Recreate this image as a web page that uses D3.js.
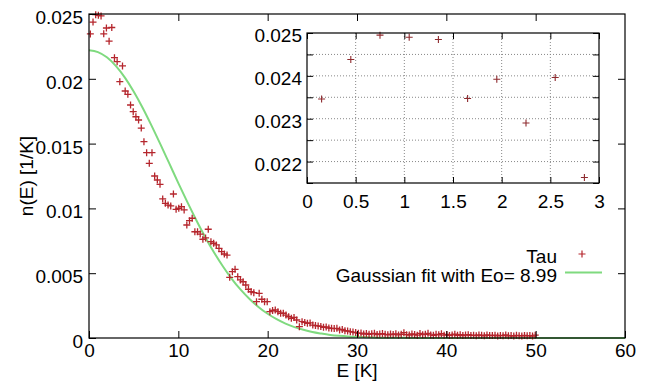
<!DOCTYPE html>
<html>
<head>
<meta charset="utf-8">
<script src="https://cdn.jsdelivr.net/npm/d3@7"></script>
<style>
  body { margin: 0; background: #fff; overflow: hidden; }
  svg { display: block; }
  svg text { font-family: "Liberation Sans", Arial, sans-serif; font-size: 19px; fill: #000; }
</style>
</head>
<body>
<svg id="chart" width="654" height="381"></svg>
<script>
// energy bins [K]
const energies = [
  0.15, 0.45, 0.75, 1.05, 1.35, 1.65, 1.95, 2.25, 2.55, 2.85,
  3.15, 3.45, 3.75, 4.05, 4.35, 4.65, 4.95, 5.25, 5.55, 5.85,
  6.15, 6.45, 6.75, 7.05, 7.35, 7.65, 7.95, 8.25, 8.55, 8.85,
  9.15, 9.45, 9.75, 10.05, 10.35, 10.65, 10.95, 11.25, 11.55, 11.85,
  12.15, 12.45, 12.75, 13.05, 13.35, 13.65, 13.95, 14.25, 14.55, 14.85,
  15.15, 15.45, 15.75, 16.05, 16.35, 16.65, 16.95, 17.25, 17.55, 17.85,
  18.15, 18.45, 18.75, 19.05, 19.35, 19.65, 19.95, 20.25, 20.55, 20.85,
  21.15, 21.45, 21.75, 22.05, 22.35, 22.65, 22.95, 23.25, 23.55, 23.85,
  24.15, 24.45, 24.75, 25.05, 25.35, 25.65, 25.95, 26.25, 26.55, 26.85,
  27.15, 27.45, 27.75, 28.05, 28.35, 28.65, 28.95, 29.25, 29.55, 29.85,
  30.15, 30.45, 30.75, 31.05, 31.35, 31.65, 31.95, 32.25, 32.55, 32.85,
  33.15, 33.45, 33.75, 34.05, 34.35, 34.65, 34.95, 35.25, 35.55, 35.85,
  36.15, 36.45, 36.75, 37.05, 37.35, 37.65, 37.95, 38.25, 38.55, 38.85,
  39.15, 39.45, 39.75, 40.05, 40.35, 40.65, 40.95, 41.25, 41.55, 41.85,
  42.15, 42.45, 42.75, 43.05, 43.35, 43.65, 43.95, 44.25, 44.55, 44.85,
  45.15, 45.45, 45.75, 46.05, 46.35, 46.65, 46.95, 47.25, 47.55, 47.85,
  48.15, 48.45, 48.75, 49.05, 49.35, 49.65, 49.95
];

// n(E) for Tau [1/K]
const tau = [
  0.02346, 0.02438, 0.02495, 0.02490, 0.02485, 0.02347, 0.02392, 0.02290, 0.02396, 0.02163,
  0.02132, 0.01978, 0.02099, 0.01906, 0.01880, 0.01798, 0.01746, 0.01707, 0.01682, 0.01620,
  0.01515, 0.01430, 0.01348, 0.01430, 0.01250, 0.01219, 0.01186, 0.01073, 0.01039, 0.01026,
  0.01019, 0.01111, 0.00993, 0.01001, 0.01013, 0.00988, 0.00872, 0.00905, 0.00924, 0.00820,
  0.00820, 0.00802, 0.00762, 0.00772, 0.00839, 0.00743, 0.00731, 0.00718, 0.00692, 0.00666,
  0.00648, 0.00640, 0.00468, 0.00512, 0.00530, 0.00473, 0.00448, 0.00434, 0.00409, 0.00376,
  0.00357, 0.00350, 0.00280, 0.00345, 0.00299, 0.00280, 0.00280, 0.00203, 0.00212, 0.00216,
  0.00203, 0.00191, 0.00191, 0.00177, 0.00164, 0.00152, 0.00158, 0.00139, 0.00087, 0.00126,
  0.00120, 0.00113, 0.00116, 0.00100, 0.00096, 0.00093, 0.00089, 0.00083, 0.00085, 0.00077,
  0.00075, 0.00073, 0.00075, 0.00062, 0.00066, 0.00056, 0.00054, 0.00049, 0.00046, 0.00042,
  0.00036, 0.00038, 0.00031, 0.00035, 0.00029, 0.00033, 0.00036, 0.00027, 0.00031, 0.00034,
  0.00028, 0.00025, 0.00030, 0.00027, 0.00032, 0.00024, 0.00029, 0.00041, 0.00026, 0.00023,
  0.00031, 0.00027, 0.00022, 0.00035, 0.00026, 0.00029, 0.00036, 0.00024, 0.00021, 0.00028,
  0.00025, 0.00033, 0.00022, 0.00027, 0.00020, 0.00024, 0.00029, 0.00021, 0.00025, 0.00019,
  0.00023, 0.00026, 0.00020, 0.00022, 0.00018, 0.00024, 0.00021, 0.00017, 0.00023, 0.00020,
  0.00019, 0.00022, 0.00016, 0.00020, 0.00018, 0.00023, 0.00017, 0.00019, 0.00015, 0.00021,
  0.00018, 0.00016, 0.00020, 0.00017, 0.00019, 0.00015, 0.00022
];

// Gaussian fit curve
const fitE = [0, 1, 2, 3, 4, 5, 6, 7, 8, 9, 10, 11, 12, 13, 14, 15, 16, 17, 18, 19, 20,
  21, 22, 23, 24, 25, 26, 27, 28, 29, 30, 32, 35, 40, 50, 60];
const fitN = [0.02220, 0.02206, 0.02166, 0.02100, 0.02011, 0.01902, 0.01777, 0.01639, 0.01494,
  0.01345, 0.01195, 0.01050, 0.00911, 0.00780, 0.00660, 0.00552, 0.00455, 0.00371, 0.00299,
  0.00238, 0.00187, 0.00145, 0.00111, 0.00084, 0.00063, 0.00046, 0.00034, 0.00024, 0.00017,
  0.00012, 0.00009, 0.00004, 0.00001, 0, 0, 0];

const xTicks = [0, 10, 20, 30, 40, 50, 60];
const xTickLabels = ["0", "10", "20", "30", "40", "50", "60"];
const yTicks = [0, 0.005, 0.01, 0.015, 0.02, 0.025];
const yTickLabels = ["0", "0.005", "0.01", "0.015", "0.02", "0.025"];

const insetXTicks = [0, 0.5, 1, 1.5, 2, 2.5, 3];
const insetXLabels = ["0", "0.5", "1", "1.5", "2", "2.5", "3"];
const insetYTicks = [0.0215, 0.022, 0.0225, 0.023, 0.0235, 0.024, 0.0245, 0.025];
const insetYLabels = ["", "0.022", "", "0.023", "", "0.024", "", "0.025"];

const seriesName = "Tau";
const fitName = "Gaussian fit with Eo= 8.99";

const red = "#b5262d";
const green = "#7fda7f";

const svg = d3.select("#chart");

// main scales
const x = d3.scaleLinear().domain([0, 60]).range([89, 625]);
const y = d3.scaleLinear().domain([0, 0.025]).range([338, 14]);

const plus = r => `M${-r},0H${r}M0,${-r}V${r}`;
const data = energies.map((e, i) => ({e: e, n: tau[i]}));

// fit line
const line = d3.line()
  .x((d, i) => x(fitE[i]))
  .y(d => y(d))
  .curve(d3.curveMonotoneX);

svg.append("path")
  .datum(fitN)
  .attr("fill", "none")
  .attr("stroke", green)
  .attr("stroke-width", 2)
  .attr("d", line);

// Tau points
svg.append("g").selectAll("path")
  .data(data)
  .enter()
  .append("path")
  .attr("transform", d => `translate(${x(d.e)},${y(d.n)})`)
  .attr("d", plus(3.5))
  .attr("stroke", red)
  .attr("stroke-width", 1.3)
  .attr("fill", "none");

// axes (ticks inward)
const styleAxis = g => {
  g.select(".domain").remove();
  g.selectAll(".tick line").attr("stroke", "#000");
};

svg.append("g")
  .attr("transform", "translate(0,338)")
  .call(d3.axisBottom(x).tickValues(xTicks).tickFormat((d, i) => xTickLabels[i])
    .tickSizeInner(-7).tickSizeOuter(0).tickPadding(6))
  .call(styleAxis)
  .call(g => g.selectAll("text").attr("font-size", 19));

svg.append("g")
  .attr("transform", "translate(0,14)")
  .call(d3.axisTop(x).tickValues(xTicks.slice(1, -1)).tickFormat("").tickSizeInner(-7).tickSizeOuter(0))
  .call(styleAxis);

svg.append("g")
  .attr("transform", "translate(89,0)")
  .call(d3.axisLeft(y).tickValues(yTicks).tickFormat((d, i) => yTickLabels[i])
    .tickSizeInner(-7).tickSizeOuter(0).tickPadding(6))
  .call(styleAxis)
  .call(g => g.selectAll("text").attr("dy", "0.5em").attr("font-size", 19));

svg.append("g")
  .attr("transform", "translate(625,0)")
  .call(d3.axisRight(y).tickValues(yTicks.slice(1, -1)).tickFormat("").tickSizeInner(-7).tickSizeOuter(0))
  .call(styleAxis);

// border
svg.append("rect")
  .attr("x", 89).attr("y", 14)
  .attr("width", 625 - 89).attr("height", 338 - 14)
  .attr("fill", "none")
  .attr("stroke", "#000")
  .attr("stroke-width", 1.2);

// axis titles
svg.append("text")
  .attr("x", 357).attr("y", 377)
  .attr("text-anchor", "middle")
  .attr("font-size", 16)
  .text("E [K]");

svg.append("text")
  .attr("transform", "translate(33,176) rotate(-90)")
  .attr("text-anchor", "middle")
  .text("n(E) [1/K]");

// legend
const key = svg.append("g");
key.append("text").attr("x", 557).attr("y", 263).attr("text-anchor", "end").text(seriesName);
key.append("path")
  .attr("transform", "translate(582,254)")
  .attr("d", plus(3.5))
  .attr("stroke", red).attr("stroke-width", 1.2);
key.append("text").attr("x", 557).attr("y", 282).attr("text-anchor", "end").text(fitName);
key.append("line")
  .attr("x1", 565).attr("x2", 602).attr("y1", 272.5).attr("y2", 272.5)
  .attr("stroke", green).attr("stroke-width", 2);

// inset
const ix = d3.scaleLinear().domain([0, 3]).range([307, 599]);
const iy = d3.scaleLinear().domain([0.0215, 0.025]).range([183, 33]);

const inset = svg.append("g");
inset.append("rect")
  .attr("x", 307).attr("y", 33)
  .attr("width", 599 - 307).attr("height", 183 - 33)
  .attr("fill", "#fff");

// dotted grid
inset.append("g").selectAll("line")
  .data(insetXTicks.slice(1, -1))
  .enter().append("line")
  .attr("x1", d => ix(d)).attr("x2", d => ix(d))
  .attr("y1", 33).attr("y2", 183)
  .attr("stroke", "#888").attr("stroke-dasharray", "1,2");

inset.append("g").selectAll("line")
  .data(insetYTicks.slice(1, -1))
  .enter().append("line")
  .attr("x1", 307).attr("x2", 599)
  .attr("y1", d => iy(d)).attr("y2", d => iy(d))
  .attr("stroke", "#888").attr("stroke-dasharray", "1,2");

inset.append("g")
  .attr("transform", "translate(0,183)")
  .call(d3.axisBottom(ix).tickValues(insetXTicks).tickFormat((d, i) => insetXLabels[i])
    .tickSizeInner(-6).tickSizeOuter(0).tickPadding(12))
  .call(styleAxis)
  .call(g => g.selectAll("text").attr("font-size", 19));

inset.append("g")
  .attr("transform", "translate(0,33)")
  .call(d3.axisTop(ix).tickValues(insetXTicks).tickFormat("").tickSizeInner(-6).tickSizeOuter(0))
  .call(styleAxis);

inset.append("g")
  .attr("transform", "translate(307,0)")
  .call(d3.axisLeft(iy).tickValues(insetYTicks).tickFormat((d, i) => insetYLabels[i])
    .tickSizeInner(-6).tickSizeOuter(0).tickPadding(5))
  .call(styleAxis)
  .call(g => g.selectAll("text").attr("dy", "0.45em").attr("font-size", 19));

inset.append("g")
  .attr("transform", "translate(599,0)")
  .call(d3.axisRight(iy).tickValues(insetYTicks).tickFormat("").tickSizeInner(-6).tickSizeOuter(0))
  .call(styleAxis);

inset.append("g").selectAll("path")
  .data(data.filter(d => d.e <= 3))
  .enter()
  .append("path")
  .attr("transform", d => `translate(${ix(d.e)},${iy(d.n)})`)
  .attr("d", plus(3.5))
  .attr("stroke", "#8e2a2e")
  .attr("stroke-width", 1.1)
  .attr("fill", "none");

inset.append("rect")
  .attr("x", 307).attr("y", 33)
  .attr("width", 599 - 307).attr("height", 183 - 33)
  .attr("fill", "none")
  .attr("stroke", "#000")
  .attr("stroke-width", 1.2);
</script>
</body>
</html>
